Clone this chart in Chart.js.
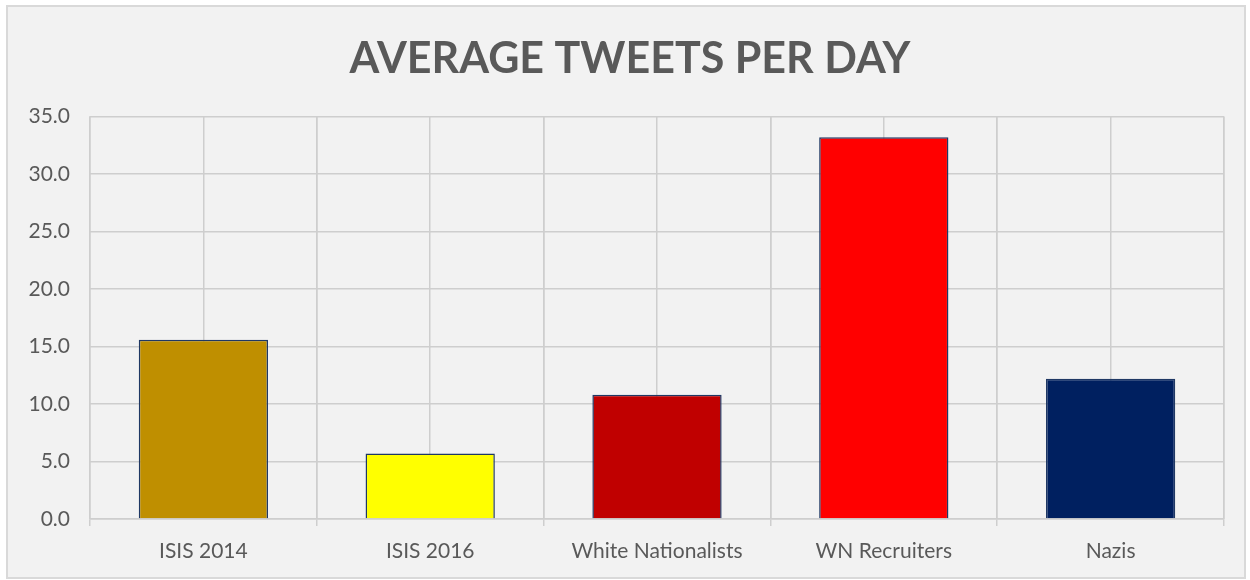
<!DOCTYPE html>
<html>
<head>
<meta charset="utf-8">
<script src="https://cdn.jsdelivr.net/npm/chart.js@4"></script>
<style>
    html, body { margin: 0; padding: 0; background: #ffffff; }
    #frame {
        position: absolute; left: 6px; top: 5px;
        width: 1236px; height: 570px;
        background: #f2f2f2; border: 2px solid #d9d9d9;
    }
    #tweetChart { position: absolute; left: 0; top: 0; }
</style>
</head>
<body>
<div id="frame"></div>
<canvas id="tweetChart" width="1250" height="580"></canvas>
<script>
// Categories and their values
const categories = ["ISIS 2014", "ISIS 2016", "White Nationalists", "WN Recruiters", "Nazis"];
const tweetsPerDay = [15.6, 5.7, 10.8, 33.2, 12.2];
const barColors = ["#bf8f00", "#ffff00", "#c00000", "#ff0000", "#002060"];
const yMin = 0;
const yMax = 35;
const yStep = 5;

// half-category labels, used only to get gridlines through bar centres too
const halfSlots = categories.flatMap(() => ["", ""]);

const gridColor = "#cecece";
const textColor = "#595959";

document.addEventListener("DOMContentLoaded", () => {
    const ctx = document.getElementById("tweetChart").getContext("2d");

    new Chart(ctx, {
        type: "bar",
        data: {
            labels: categories,
            datasets: [
                {
                    label: "Average tweets per day",
                    data: tweetsPerDay,
                    backgroundColor: barColors,
                    borderColor: "#1f3864",
                    borderWidth: 1.5,
                    categoryPercentage: 1,
                    barPercentage: 0.57,
                },
            ],
        },
        options: {
            responsive: false,
            animation: false,
            layout: { padding: { left: 16, right: 6, top: 0, bottom: 0 } },
            plugins: {
                legend: { display: false },
                tooltip: { enabled: false },
                title: {
                    display: true,
                    text: "AVERAGE TWEETS PER DAY",
                    color: textColor,
                    font: { family: "Lato", size: 43, weight: "bold", lineHeight: 1.2 },
                    padding: { top: 33, bottom: 32 },
                },
            },
            scales: {
                x: {
                    offset: true,
                    grid: {
                        offset: true,
                        color: gridColor,
                        lineWidth: 1.5,
                        drawTicks: true,
                        tickLength: 7,
                    },
                    border: { display: true, color: gridColor, width: 1.5 },
                    ticks: {
                        color: textColor,
                        font: { family: "Lato", size: 21 },
                        padding: 13,
                    },
                    afterFit: (scale) => { scale.height = 61; },
                },
                x2: {
                    type: "category",
                    labels: halfSlots,
                    offset: true,
                    grid: { offset: true, color: gridColor, lineWidth: 1.5, drawTicks: false },
                    border: { display: false },
                    ticks: { display: false },
                    afterFit: (scale) => { scale.height = 0; },
                },
                y: {
                    min: yMin,
                    max: yMax,
                    ticks: {
                        stepSize: yStep,
                        color: textColor,
                        font: { family: "Lato", size: 21 },
                        padding: 20,
                        callback: (value) => value.toFixed(1),
                    },
                    grid: { color: gridColor, lineWidth: 1.5, drawTicks: false },
                    border: { display: false },
                    afterFit: (scale) => { scale.width = 74; },
                },
                // empty right-hand margin so the title sits centred on the frame
                yRight: {
                    position: "right",
                    min: yMin,
                    max: yMax,
                    ticks: { display: false },
                    grid: { drawOnChartArea: false, drawTicks: false },
                    border: { display: false },
                    afterFit: (scale) => { scale.width = 20; },
                },
            },
        },
    });
});
</script>
</body>
</html>
